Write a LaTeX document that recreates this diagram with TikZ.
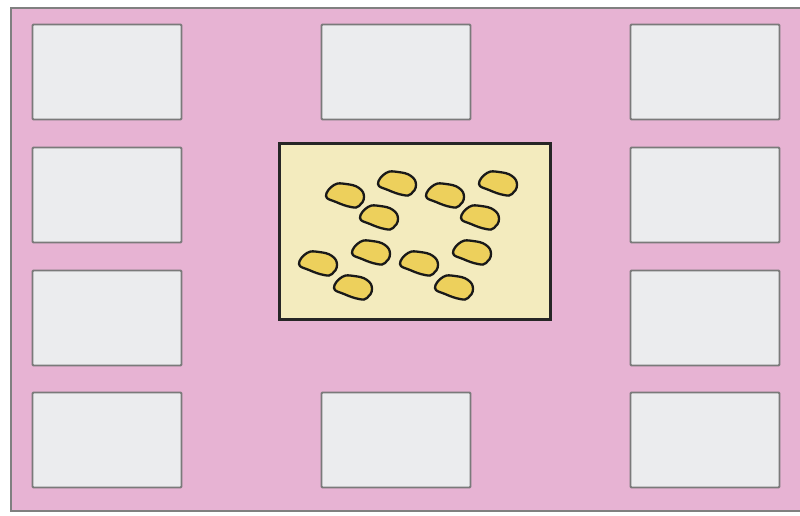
\documentclass[tikz,border=0pt]{standalone}
\begin{document}
\begin{tikzpicture}[x=1pt,y=1pt,
  tray/.style={draw=black!52,line width=1.8pt,fill=panelgray,minimum width=149pt,minimum height=95pt,inner sep=0pt,rounded corners=1pt},
  bed/.style={draw=black!85,line width=2.4pt,fill=bedyellow,minimum width=271pt,minimum height=176pt,inner sep=0pt},
  seed/.pic={\draw[line width=2.3pt,draw=black!90,fill=seedyellow]
     plot[smooth cycle,tension=0.75] coordinates
     {(-19,-1) (-11,10) (1,11) (14,7) (19,-2) (14,-11) (6,-12) (-9,-7)};}]
\definecolor{plate}{HTML}{E7B3D3}
\definecolor{panelgray}{HTML}{EBECEE}
\definecolor{bedyellow}{HTML}{F3EBBE}
\definecolor{seedyellow}{HTML}{EDD05C}
\useasboundingbox (0,0) rectangle (800,515);
% backing plate
\draw[draw=black!50,line width=1.8pt,fill=plate] (11,4) rectangle (806,507);
% surrounding trays
\foreach \c/\x in {l/107,r/705}{
  \foreach \r/\y in {1/443,2/320,3/197,4/75}{
    \node[tray] (t\c\r) at (\x,\y) {};
  }
}
\node[tray] (tm1) at (396,443) {};
\node[tray] (tm4) at (396,75) {};
% central bed
\node[bed] (bed) at (415,283.5) {};
% seeds scattered on the bed
\foreach \sx/\sy in {345/320,397/332,445/320,498/332,379/298,480/298,
                     371/263,472/263,318/252,419/252,353/228,454/228}{
  \pic at (\sx,\sy) {seed};
}
\end{tikzpicture}
\end{document}
